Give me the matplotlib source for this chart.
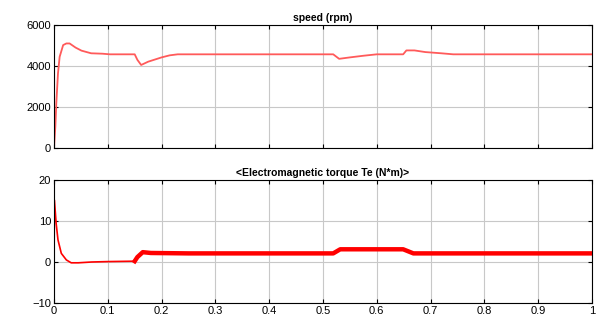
import matplotlib
matplotlib.use("Agg")
import matplotlib.pyplot as plt

plt.rcParams['font.family'] = ['Liberation Sans', 'DejaVu Sans']

# ================= DATA =================
t_speed = [0.0, 0.0025, 0.0043, 0.0074, 0.0105, 0.017, 0.023, 0.029, 0.04, 0.051, 0.069, 0.09, 0.104,
           0.15, 0.155, 0.162, 0.175, 0.2, 0.215, 0.23,
           0.519, 0.53, 0.55, 0.575, 0.60, 0.649, 0.655, 0.67, 0.69, 0.72, 0.742, 1.0]
speed = [0, 1040, 2180, 3640, 4450, 5020, 5100, 5100, 4900, 4750, 4620, 4600, 4570,
         4570, 4300, 4050, 4210, 4420, 4520, 4570,
         4570, 4350, 4420, 4500, 4570, 4570, 4760, 4760, 4680, 4620, 4570, 4570]

t_torque = [0.0, 0.0008, 0.004, 0.0074, 0.0136, 0.023, 0.032, 0.045, 0.07, 0.10, 0.15,
            0.155, 0.165, 0.18, 0.25, 0.519, 0.532, 0.60, 0.649, 0.668, 0.7, 1.0]
torque = [0, 15.1, 9.4, 5.4, 2.1, 0.5, -0.2, -0.2, 0.0, 0.1, 0.2,
          1.2, 2.4, 2.2, 2.1, 2.1, 3.1, 3.1, 3.1, 2.1, 2.1, 2.1]

x_ticks = [0, 0.1, 0.2, 0.3, 0.4, 0.5, 0.6, 0.7, 0.8, 0.9, 1]
x_labels = ['0', '0.1', '0.2', '0.3', '0.4', '0.5', '0.6', '0.7', '0.8', '0.9', '1']
speed_ticks = [0, 2000, 4000, 6000]
torque_ticks = [-10, 0, 10, 20]

# ================= PLOT =================
fig = plt.figure(figsize=(6.11, 3.21), dpi=100)
ax1 = fig.add_axes([54 / 611, 1 - 148 / 321, 538 / 611, 123 / 321])
ax2 = fig.add_axes([54 / 611, 1 - 303 / 321, 538 / 611, 123 / 321])

ax1.plot(t_speed, speed, color='#ff5a5a', linewidth=1.3)
ax1.set_ylim(0, 6000)
ax1.set_yticks(speed_ticks)
ax1.set_title('speed (rpm)', fontsize=7.5, fontweight='bold', pad=3)

# thin start, then a thick band for the ripple part
k = t_torque.index(0.15)
ax2.plot(t_torque[:k + 1], torque[:k + 1], color='#ff0000', linewidth=1.2)
ax2.plot(t_torque[k:], torque[k:], color='#ff0000', linewidth=3.2, solid_joinstyle='round')
ax2.set_ylim(-10, 20)
ax2.set_yticks(torque_ticks)
ax2.set_title('<Electromagnetic torque Te (N*m)>', fontsize=7.5, fontweight='bold', pad=3)

for ax in (ax1, ax2):
    ax.set_xlim(0, 1)
    ax.set_xticks(x_ticks)
    ax.grid(True, color='#c8c8c8', linewidth=0.8)
    ax.tick_params(direction='in', top=True, right=True, labelsize=8, length=3, pad=2)
    for s in ax.spines.values():
        s.set_linewidth(0.8)

ax1.set_xticklabels([])
ax2.set_xticklabels(x_labels)

fig.savefig('out.png', dpi=100)
